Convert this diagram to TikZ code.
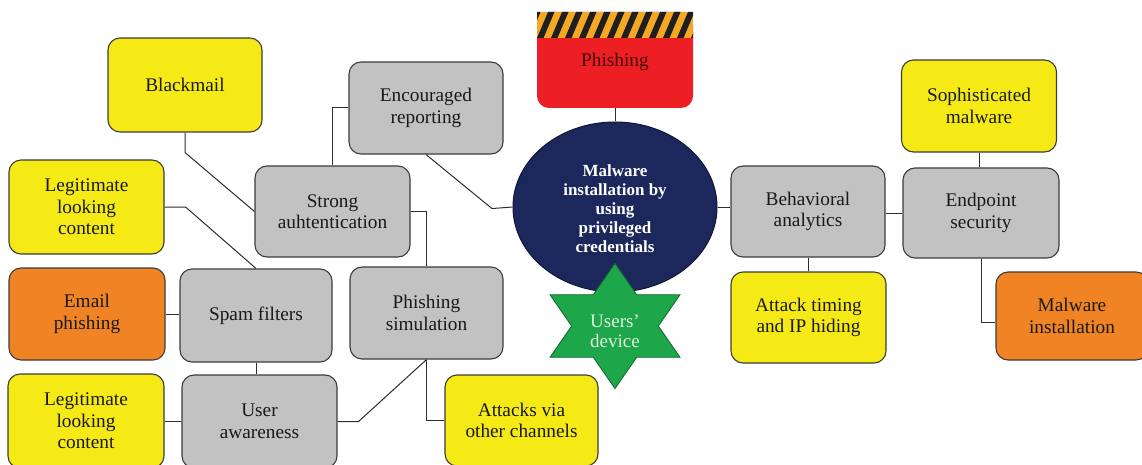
\documentclass[tikz,border=0pt]{standalone}
\usepackage{fontspec}
\setmainfont{Liberation Serif}
\usetikzlibrary{shapes.geometric,backgrounds}

\definecolor{boxgray}{RGB}{194,194,194}
\definecolor{boxyellow}{RGB}{245,234,22}
\definecolor{boxorange}{RGB}{240,132,36}
\definecolor{edge}{RGB}{60,60,60}
\definecolor{wire}{RGB}{45,45,45}
\definecolor{ink}{RGB}{25,25,25}
\definecolor{hubnavy}{RGB}{28,40,92}
\definecolor{hubedge}{RGB}{15,22,50}
\definecolor{stargreen}{RGB}{30,166,74}
\definecolor{staredge}{RGB}{20,110,45}
\definecolor{starink}{RGB}{222,242,222}
\definecolor{bannerred}{RGB}{237,30,36}
\definecolor{bandorange}{RGB}{246,168,36}
\definecolor{bannerink}{RGB}{70,12,12}

\begin{document}
\begin{tikzpicture}[x=1pt,y=-1pt,
  card/.style={draw=edge, line width=1.1pt, rounded corners=12pt, align=center,
    inner sep=0pt, font=\fontsize{19.3}{21.5}\selectfont, text=ink},
  box/.style 2 args={minimum width=#1pt, minimum height=#2pt},
  tool/.style={card, fill=boxgray},
  threat/.style={card, fill=boxyellow},
  attack/.style={card, fill=boxorange},
  link/.style={draw=wire, line width=1pt},
]
\useasboundingbox (0,0) rectangle (1142,465);

% ---------- central hub ----------
\node[ellipse, draw=hubedge, line width=1pt, fill=hubnavy, inner sep=0pt,
      minimum width=204pt, minimum height=170pt] (hub) at (615,207) {};
\node[font=\bfseries\fontsize{17}{19}\selectfont, text=white, align=center]
      (hublabel) at (615,209) {Malware\\installation by\\using\\privileged\\credentials};

% ---------- six-pointed star ----------
\draw[fill=stargreen, draw=staredge, line width=0.9pt]
  ({615+1.2*62.5*cos(90)},{326-62.5*sin(90)})
  \foreach \i in {1,...,11}{
    -- ({615+1.2*(mod(\i,2)==0 ? 62.5 : 36.1)*cos(90+30*\i)},
        {326-(mod(\i,2)==0 ? 62.5 : 36.1)*sin(90+30*\i)})
  } -- cycle;
\node[font=\fontsize{19}{20}\selectfont, text=starink, align=center]
      (device) at (615,331) {Users'\\device};

% ---------- hazard banner ----------
\node[inner sep=0pt, minimum width=156pt, minimum height=96pt] (banner) at (615,60) {};
\fill[bannerred, rounded corners=12pt] (537,12) rectangle (693,108);
\begin{scope}
  \clip (537,12) rectangle (693,38);
  \fill[bandorange] (537,12) rectangle (693,38);
  \foreach \i in {-2,...,12}
    \fill[black!88] ({537+14*\i},38) -- ++(6.5,0) -- ++(11,-26) -- ++(-6.5,0) -- cycle;
\end{scope}
\node[font=\fontsize{19.3}{21.5}\selectfont, text=bannerink] (bannerlabel) at (615,62) {Phishing};

% ---------- left cluster ----------
\node[threat, box={154}{94}] (blackmail)  at (185,85)    {Blackmail};
\node[tool,   box={154}{92}] (encouraged) at (426,108)   {Encouraged\\reporting};
\node[threat, box={155}{94}] (legit1)     at (86.5,207)  {Legitimate\\looking\\content};
\node[tool,   box={155}{91}] (strong)     at (332.5,211.5) {Strong\\auhtentication};
\node[attack, box={156}{92}] (email)      at (87,314)    {Email\\phishing};
\node[tool,   box={152}{93}] (spam)       at (256,315.5) {Spam filters};
\node[tool,   box={153}{92}] (phsim)      at (426.5,313) {Phishing\\simulation};
\node[threat, box={156}{94}] (legit2)     at (86,421)    {Legitimate\\looking\\content};
\node[tool,   box={155}{93}] (useraw)     at (259.5,421.5) {User\\awareness};
\node[threat, box={153}{91}] (attacks)    at (521.5,420.5) {Attacks via\\other channels};

% ---------- right cluster ----------
\node[threat, box={155}{92}] (soph)       at (979,106)   {Sophisticated\\malware};
\node[tool,   box={154}{91}] (behav)      at (808,211.5) {Behavioral\\analytics};
\node[tool,   box={156}{90}] (endpoint)   at (981,213)   {Endpoint\\security};
\node[threat, box={155}{91}] (attiming)   at (808.5,317.5) {Attack timing\\and IP hiding};
\node[attack, box={152}{88}] (malinst)    at (1072,316)  {Malware\\installation};

% ---------- connectors ----------
\begin{scope}[on background layer]
\draw[link] (blackmail.south) -- ++(0,20) -- (strong.west);
\draw[link] (strong.north) |- (encouraged.west);
\draw[link] (encouraged.south) -- ++(66,54) -- (hub.west);
\draw[link] (legit1.east) -- ++(21,0) -- (spam.north);
\draw[link] (strong.east) -| (phsim.north);
\draw[link] (email.east) -- (email.east -| spam.west);
\draw[link] (spam.south) -- (spam.south |- useraw.north);
\draw[link] (legit2.east) -- (legit2.east -| useraw.west);
\draw[link] (useraw.east) -- ++(21,0) -- (phsim.south);
\draw[link] (phsim.south) |- (attacks.west);
\draw[link] (banner.south) -- (banner.south |- hub.north);
\draw[link] (hub.east) -- (hub.east -| behav.west);
\draw[link] (endpoint.west -| behav.east) -- (endpoint.west);
\draw[link] (soph.south) -- (soph.south |- endpoint.north);
\draw[link] (behav.south) -- (behav.south |- attiming.north);
\draw[link] (endpoint.south) |- ([yshift=-6pt]malinst.west);
\end{scope}
\end{tikzpicture}
\end{document}
